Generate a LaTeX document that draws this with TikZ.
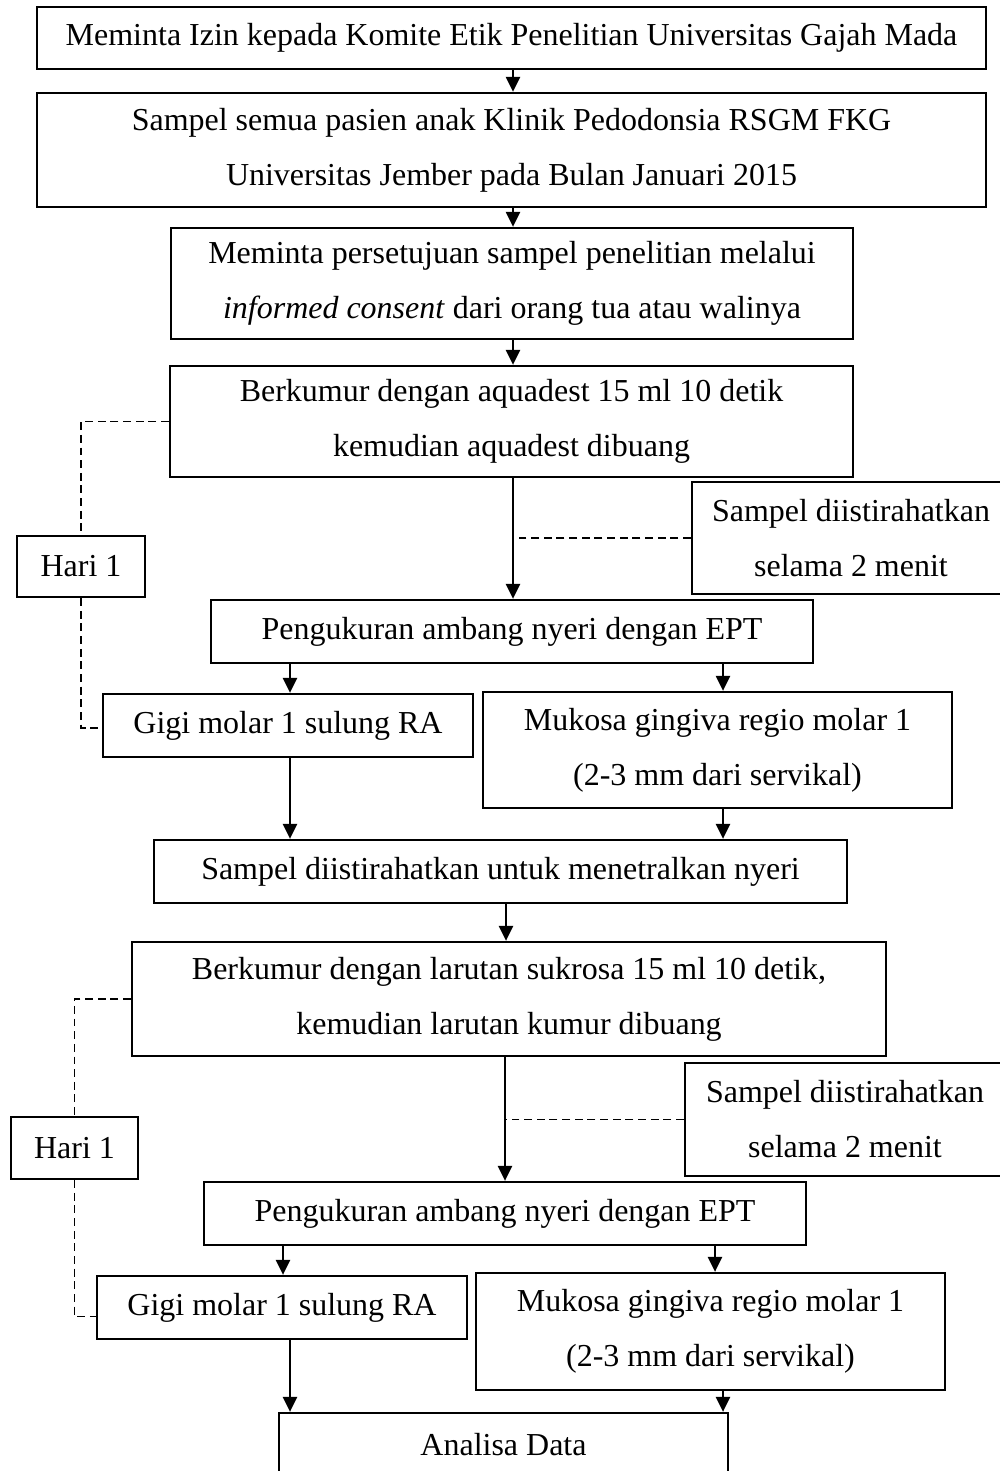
\documentclass[tikz,border=0pt]{standalone}
\usepackage{fontspec}
\setmainfont{Liberation Serif}
\usetikzlibrary{arrows.meta,calc,positioning}

\tikzset{
  box/.style={draw, line width=1.3pt, inner sep=0pt, align=center,
    font=\fontsize{18.2pt}{31.3pt}\selectfont},
  sz/.style 2 args={minimum width=#1*0.02cm, minimum height=#2*0.02cm},
  arr/.style={line width=1.3pt, -{Triangle[length=0.3cm,width=0.28cm]}},
  waitline/.style={line width=1pt, dash pattern=on 4.5pt off 2.7pt},
}

\begin{document}
\begin{tikzpicture}[x=0.02cm, y=-0.02cm]
  \clip (0,0) rectangle (1000,1471);
  % columns of the arrows
  \coordinate (colA) at (513,0);
  \coordinate (colB) at (506,0);
  \coordinate (colL) at (290,0);
  \coordinate (colR) at (723,0);
  \coordinate (colLB) at (283,0);
  \coordinate (colRB) at (715,0);

  % day 1, aquadest
  \node[box, sz={949}{62}] (izin) at (511.5,38) {Meminta Izin kepada Komite Etik Penelitian Universitas Gajah Mada};
  \node[box, sz={949}{114}] (sampel) at (511.5,150) {Sampel semua pasien anak Klinik Pedodonsia RSGM FKG\\Universitas Jember pada Bulan Januari 2015};
  \node[box, sz={682}{111}] (consent) at (512,283.5) {Meminta persetujuan sampel penelitian melalui\\\textit{informed consent} dari orang tua atau walinya};
  \node[box, sz={683}{111}] (kumurA) at (511.5,421.5) {Berkumur dengan aquadest 15 ml 10 detik\\kemudian aquadest dibuang};
  \node[box, sz={318}{112}] (restA) at (851,538) {Sampel diistirahatkan\\selama 2 menit};
  \node[box, sz={128}{61}] (hariA) at (81,566.5) {Hari 1};
  \node[box, sz={602}{63}] (eptA) at (512,631.5) {Pengukuran ambang nyeri dengan EPT};
  \node[box, sz={370}{63}] (gigiA) at (288,725.5) {Gigi molar 1 sulung RA};
  \node[box, sz={469}{116}] (mukosaA) at (717.5,750) {Mukosa gingiva regio molar 1\\(2-3 mm dari servikal)};
  \node[box, sz={693}{63}] (netral) at (500.5,871.5) {Sampel diistirahatkan untuk menetralkan nyeri};

  % day 1, sukrosa
  \node[box, sz={754}{114}] (kumurB) at (509,999) {Berkumur dengan larutan sukrosa 15 ml 10 detik,\\kemudian larutan kumur dibuang};
  \node[box, sz={320}{113}] (restB) at (845,1119.5) {Sampel diistirahatkan\\selama 2 menit};
  \node[box, sz={127}{62}] (hariB) at (74.5,1148) {Hari 1};
  \node[box, sz={602}{63}] (eptB) at (505,1213.5) {Pengukuran ambang nyeri dengan EPT};
  \node[box, sz={370}{63}] (gigiB) at (282,1307.5) {Gigi molar 1 sulung RA};
  \node[box, sz={469}{117}] (mukosaB) at (710.5,1331.5) {Mukosa gingiva regio molar 1\\(2-3 mm dari servikal)};
  \node[box, sz={449}{63}] (analisa) at (503.5,1444.5) {Analisa Data};

  % arrows
  \draw[arr] (izin.south -| colA) -- (sampel.north -| colA);
  \draw[arr] (sampel.south -| colA) -- (consent.north -| colA);
  \draw[arr] (consent.south -| colA) -- (kumurA.north -| colA);
  \draw[arr] (kumurA.south -| colA) -- (eptA.north -| colA);
  \draw[arr] (eptA.south -| colL) -- (gigiA.north -| colL);
  \draw[arr] (eptA.south -| colR) -- (mukosaA.north -| colR);
  \draw[arr] (gigiA.south -| colL) -- (netral.north -| colL);
  \draw[arr] (mukosaA.south -| colR) -- (netral.north -| colR);
  \draw[arr] (netral.south -| colB) -- (kumurB.north -| colB);
  \draw[arr] (kumurB.south -| eptB) -- (eptB.north);
  \draw[arr] (eptB.south -| colLB) -- (gigiB.north -| colLB);
  \draw[arr] (eptB.south -| colRB) -- (mukosaB.north -| colRB);
  \draw[arr] (gigiB.south -| colL) -- (analisa.north -| colL);
  \draw[arr] (mukosaB.south -| colR) -- (analisa.north -| colR);

  % dashed links
  \draw[waitline] (restA.west) -- (restA.west -| colA);
  \draw[waitline] (restB.west) -- (restB.west -| eptB);
  \draw[waitline] (kumurA.west) -| (hariA.north);
  \draw[waitline] (hariA.south) |- ([yshift=-0.05cm]gigiA.west);
  \draw[waitline] (kumurB.west) -| (hariB.north);
  \draw[waitline] (hariB.south) |- ([yshift=-0.18cm]gigiB.west);
\end{tikzpicture}
\end{document}
